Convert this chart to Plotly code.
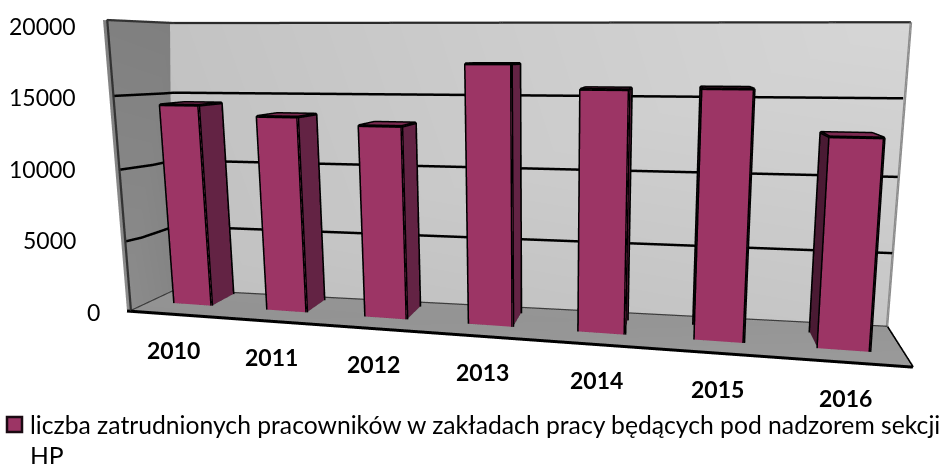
import numpy as np
import plotly.graph_objects as go

# ---- chart data ----
years = ["2010", "2011", "2012", "2013", "2014", "2015", "2016"]
workers = [14300, 13600, 13100, 17150, 15600, 15700, 12950]
value_ticks = [0, 5000, 10000, 15000, 20000]
series_name = "liczba zatrudnionych pracowników w zakładach pracy będących pod nadzorem sekcji"
series_name_2 = "HP"
Z_MAX = 20000

W, H = 944, 464
F = (H / 2) / np.tan(np.pi / 8)

# Excel-style oblique 3D view: how unit steps along category / depth / value move in view space
t0 = np.array([-345 / F, 1.0, -79 / F])
tx = np.array([717.1 / F, -0.15, -26.1 / F])
ty = np.array([18 / F, 0.09, 15.8 / F])
tz = np.array([-3.7 / F, -0.055, 279.3 / F])

e3 = np.cross(tx, ty); e3 /= np.linalg.norm(e3)
if e3 @ tz < 0:
    e3 = -e3
e1 = tx / np.linalg.norm(tx)
e2 = np.cross(e3, e1)
s0, sz = t0 @ e3, tz @ e3


def view(x, y, v):
    """category fraction, depth fraction, value -> scene x, y, z (z stays the value)."""
    x, y, v = np.asarray(x, float), np.asarray(y, float), np.asarray(v, float)
    f = v / Z_MAX
    c = t0[:, None] + tx[:, None] * x + ty[:, None] * y + tz[:, None] * f
    return e1 @ c, e2 @ c, v


def quad_mesh(corners, colors, **kw):
    xs, ys, zs = view(*zip(*corners))
    return go.Mesh3d(x=xs, y=ys, z=zs, i=[0, 0], j=[1, 2], k=[2, 3], vertexcolor=colors,
                     lighting=dict(ambient=1, diffuse=0, specular=0, fresnel=0),
                     flatshading=True, hoverinfo="skip", showscale=False, **kw)


def lines(segments, color, width):
    xs, ys, zs = [], [], []
    for seg in segments:
        a, b, c = view(*zip(*seg))
        xs += list(a) + [None]; ys += list(b) + [None]; zs += list(c) + [None]
    return go.Scatter3d(x=xs, y=ys, z=zs, mode="lines", line=dict(color=color, width=width),
                        hoverinfo="skip", showlegend=False)


def corner_x(v):   # back-left corner of the walls
    return 0.027 * v / Z_MAX


TIP = (0.993, -0.36, 0)     # front-right corner of the floor
TOP_R = (1.003, 1, Z_MAX * 0.985)
NUDGE = 0.006               # keeps lines in front of the wall they lie on

traces = []
# walls and floor
traces.append(quad_mesh([(0, 1, 0), (1, 1, 0), TOP_R, (corner_x(Z_MAX), 1, Z_MAX)],
                        ["#c0c0c0", "#c6c6c6", "#d6d6d6", "#c3c3c3"]))
traces.append(quad_mesh([(0, 0, 0), (0, 1, 0), (corner_x(Z_MAX), 1, Z_MAX), (0, 0, Z_MAX)],
                        ["#8c8c8c", "#858585", "#7f7f7f", "#808080"]))
traces.append(quad_mesh([(0, 0, 0), TIP, (1, 1, 0), (0, 1, 0)],
                        ["#929292", "#9a9a9a", "#969696", "#949494"]))

# gridlines on the walls
grid = []
for t in value_ticks[1:-1]:
    cx = corner_x(t) + NUDGE
    grid.append([(NUDGE, 0, t), (cx, t / Z_MAX, t), (cx, 1 - NUDGE, t), (1, 1 - NUDGE, t)])
traces.append(lines(grid, "#000000", 5))

# wall outline
traces.append(lines([[(corner_x(Z_MAX), 1, Z_MAX), TOP_R]], "#2a2a2a", 4.5))
traces.append(lines([[(NUDGE, 0, 0), (NUDGE, 0, Z_MAX), (corner_x(Z_MAX) + NUDGE, 1 - NUDGE, Z_MAX)]], "#333333", 4.5))
traces.append(lines([[(1, 1, 0), TOP_R]], "#8c8c8c", 5))
traces.append(lines([[(NUDGE, 0, 60), (NUDGE, 1 - NUDGE, 60), (1, 1 - NUDGE, 60)]], "#3c3c3c", 2.5))
traces.append(lines([[(0, 0, 0), TIP, (1, 1, 0)]], "#000000", 6))

# bars
HALF = 0.029
DEPTH = 0.55
FRONT, SHIFT = 0.443, 0.41
bx, by, bz, bi, bj, bk, fc = [], [], [], [], [], [], []
edges = []
FACE, SIDE, DARK, TOP = "#9c3565", "#632344", "#4a1a33", "#7b2a50"
for n, val in enumerate(workers):
    xc = (n + 0.5) / len(workers)
    xl, xr = xc - HALF, xc + HALF
    yl, yr = FRONT - SHIFT * xl, FRONT - SHIFT * xr
    pts = [(xl, yl, 0), (xr, yr, 0), (xr, yr + DEPTH, 0), (xl, yl + DEPTH, 0),
           (xl, yl, val), (xr, yr, val), (xr, yr + DEPTH, val), (xl, yl + DEPTH, val)]
    a, b, c = view(*zip(*pts))
    base = len(bx)
    bx += list(a); by += list(b); bz += list(c)
    for q, col in [((0, 1, 5, 4), FACE), ((1, 2, 6, 5), SIDE), ((3, 0, 4, 7), DARK), ((4, 5, 6, 7), TOP)]:
        bi += [base + q[0], base + q[0]]
        bj += [base + q[1], base + q[2]]
        bk += [base + q[2], base + q[3]]
        fc += [col, col]
    edges += [[pts[0], pts[1], pts[2], pts[6], pts[7], pts[3], pts[0]],
              [pts[0], pts[4], pts[5], pts[1]], [pts[4], pts[7]], [pts[5], pts[6]]]

traces.append(go.Mesh3d(x=bx, y=by, z=bz, i=bi, j=bj, k=bk, facecolor=fc, name=series_name,
                        lighting=dict(ambient=1, diffuse=0, specular=0, fresnel=0),
                        flatshading=True, hoverinfo="skip", showscale=False))
traces.append(lines(edges, "#000000", 6))

fig = go.Figure(traces)

# camera: eye at view-space origin, looking forward
BOX = 1.0
h = 2.0
fwd = np.array([0.0, 1.0, 0.0])
C = np.array([fwd @ e1, fwd @ e2, fwd @ e3])
hidden = dict(visible=False, showgrid=False, zeroline=False, showbackground=False, showspikes=False)
zr = [Z_MAX * ((C[2] - h) - s0) / sz, Z_MAX * ((C[2] + h) - s0) / sz]
eye = -C / (2 * h) * BOX
fig.update_layout(
    width=W, height=H, margin=dict(l=0, r=0, t=0, b=0), paper_bgcolor="white", showlegend=False,
    scene=dict(
        domain=dict(x=[0, 1], y=[0, 1]), aspectmode="manual", aspectratio=dict(x=1, y=1, z=1),
        xaxis=dict(range=[C[0] - h, C[0] + h], **hidden),
        yaxis=dict(range=[C[1] - h, C[1] + h], **hidden),
        zaxis=dict(range=zr, **hidden),
        camera=dict(eye=dict(x=eye[0], y=eye[1], z=eye[2]), center=dict(x=0, y=0, z=0),
                    up=dict(x=e1[2], y=e2[2], z=e3[2]), projection=dict(type="perspective")),
    ),
)

FONT = "Lato, Carlito, Calibri, sans-serif"
tick_x = [102, 78, 78, 78, 78]
tick_y = [312, 240, 169, 97, 26]
for t, px, py in zip(value_ticks, tick_x, tick_y):
    fig.add_annotation(text=str(t), xref="paper", yref="paper", x=px / W, y=1 - py / H, xanchor="right",
                       yanchor="middle", showarrow=False, font=dict(family=FONT, size=23, color="#000000"))
year_x = [173, 271, 373, 482, 596, 717, 845]
year_y = [350, 357, 364, 372, 380, 389, 398]
for t, px, py in zip(years, year_x, year_y):
    fig.add_annotation(text=f"<b>{t}</b>", xref="paper", yref="paper", x=px / W, y=1 - py / H, xanchor="center",
                       yanchor="middle", showarrow=False, font=dict(family=FONT, size=23, color="#000000"))
for t, py in [(series_name, 424), (series_name_2, 455)]:
    fig.add_annotation(text=t, xref="paper", yref="paper", x=28 / W, y=1 - py / H, xanchor="left",
                       yanchor="middle", showarrow=False, font=dict(family=FONT, size=24.7, color="#000000"))
fig.add_shape(type="rect", xref="paper", yref="paper", x0=7 / W, x1=22 / W, y0=1 - 432 / H, y1=1 - 417 / H,
              fillcolor=FACE, line=dict(color="#1a0a12", width=2.5))

fig.write_html("out.html", config=dict(displayModeBar=False),
               post_script="document.body.style.margin='0';document.body.style.overflow='hidden';")
